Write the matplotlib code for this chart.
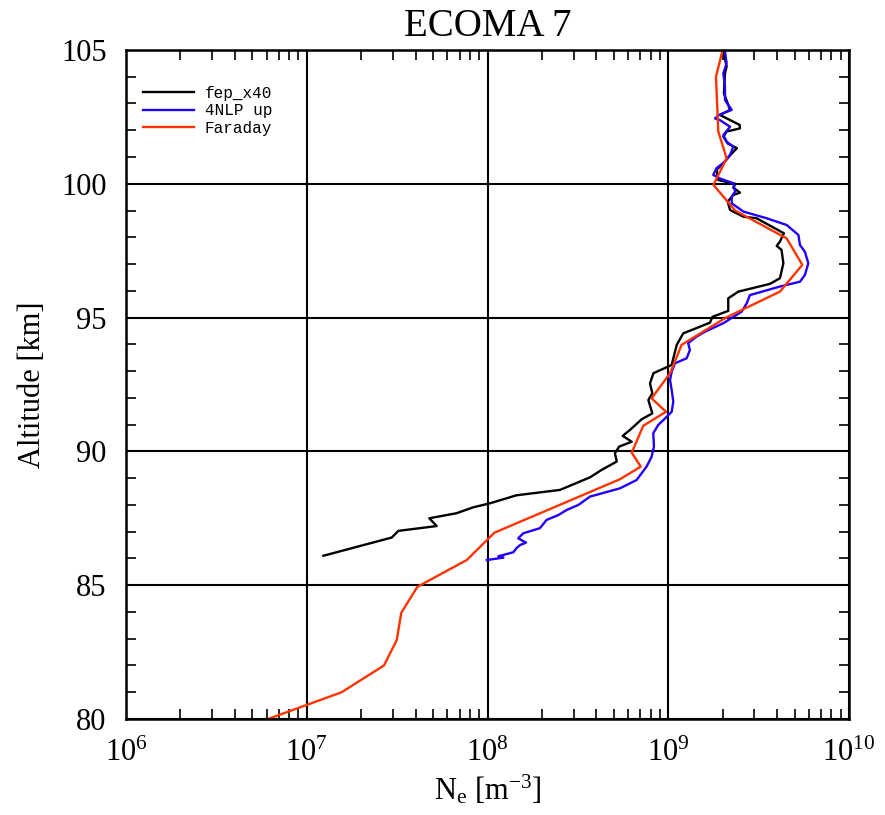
import numpy as np
import matplotlib
matplotlib.use('Agg')
import matplotlib.pyplot as plt

plt.rcParams['font.family'] = 'Liberation Serif'
plt.rcParams['mathtext.fontset'] = 'custom'
plt.rcParams['mathtext.rm'] = 'Liberation Serif'
plt.rcParams['mathtext.it'] = 'Liberation Serif:italic'

# fep_x40 : altitud (km) y log10(Ne)
fep_alt = [86.1, 86.78, 87.03, 87.21, 87.5, 87.69, 87.91, 88.06, 88.36, 88.56,
           89.03, 89.31, 89.62, 89.93, 90.18, 90.36, 90.58, 90.8, 91.2, 91.42,
           91.92, 92.17, 92.54, 92.92, 93.23, 93.98, 94.41, 94.81, 95.03, 95.25,
           95.72, 95.97, 96.26, 96.47, 97.03, 97.53, 97.68, 97.84, 98.15, 98.71,
           98.77, 99.02, 99.33, 99.58, 99.67, 99.85, 100.0, 100.14, 100.52, 100.77,
           101.01, 101.26, 101.33, 101.5, 101.76, 101.95, 102.07, 102.2, 102.57, 102.76,
           103.38, 104.13, 104.38, 104.94]
fep_log = [7.092, 7.47, 7.507, 7.719, 7.678, 7.829, 7.921, 8.014, 8.161, 8.401,
           8.567, 8.632, 8.715, 8.705, 8.729, 8.798, 8.748, 8.788, 8.853, 8.912,
           8.89, 8.912, 8.899, 8.918, 9.019, 9.047, 9.083, 9.231, 9.245, 9.332,
           9.332, 9.388, 9.563, 9.618, 9.637, 9.627, 9.60, 9.618, 9.64, 9.489,
           9.416, 9.342, 9.329, 9.36, 9.397, 9.36, 9.37, 9.277, 9.267, 9.305,
           9.335, 9.37, 9.38, 9.33, 9.305, 9.323, 9.397, 9.395, 9.286, 9.342,
           9.308, 9.314, 9.323, 9.305]

# 4NLP up
nlp_alt = [85.94, 86.03, 86.08, 86.23, 86.38, 86.5, 86.59, 86.75, 86.94, 87.13,
           87.44, 87.62, 87.81, 88.0, 88.31, 88.62, 88.93, 89.43, 89.8, 90.18,
           90.68, 90.99, 91.17, 91.48, 91.86, 92.29, 92.67, 92.98, 93.29, 93.48,
           93.79, 94.04, 94.29, 94.47, 94.79, 95.22, 95.53, 95.84, 96.16, 96.34,
           96.59, 97.03, 97.46, 97.71, 98.09, 98.46, 98.71, 98.96, 99.27, 99.52,
           99.71, 100.02, 100.2, 100.33, 100.58, 100.83, 101.08, 101.39, 101.57, 101.82,
           102.13, 102.38, 102.44, 102.57, 102.76, 103.13, 103.63, 104.13, 104.5, 104.94]
nlp_log = [7.996, 8.088, 8.06, 8.143, 8.16, 8.18, 8.213, 8.17, 8.198, 8.29,
           8.327, 8.392, 8.438, 8.503, 8.567, 8.733, 8.825, 8.88, 8.908, 8.921,
           8.917, 8.945, 8.973, 9.019, 9.028, 9.019, 9.01, 9.019, 9.037, 9.102,
           9.12, 9.11, 9.157, 9.203, 9.305, 9.406, 9.434, 9.452, 9.618, 9.729,
           9.756, 9.775, 9.756, 9.729, 9.72, 9.655, 9.545, 9.416, 9.351, 9.351,
           9.37, 9.36, 9.286, 9.249, 9.267, 9.314, 9.342, 9.36, 9.323, 9.305,
           9.342, 9.286, 9.259, 9.28, 9.351, 9.314, 9.314, 9.305, 9.323, 9.314]

# Faraday
far_alt = [80.0, 81.0, 82.0, 82.95, 83.97, 84.94, 85.94, 86.96, 88.96, 89.43,
           89.95, 90.96, 91.48, 91.98, 92.92, 93.98, 95.0, 95.97, 96.97, 97.96,
           99.0, 99.96, 100.95, 101.95, 104.0, 104.94]
far_log = [6.786, 7.193, 7.427, 7.498, 7.523, 7.612, 7.885, 8.038, 8.733, 8.848,
           8.798, 8.862, 8.988, 8.908, 9.01, 9.074, 9.32, 9.618, 9.742, 9.655,
           9.37, 9.25, 9.323, 9.277, 9.264, 9.299]

fig = plt.figure(figsize=(8.85, 8.15), dpi=100)
ax = fig.add_axes([0.1424, 0.1178, 0.8169, 0.8209])

ax.plot(np.power(10.0, fep_log), fep_alt, '-', color='black', linewidth=1.7, label='fep_x40')
ax.plot(np.power(10.0, nlp_log), nlp_alt, '-', color='#2200ff', linewidth=1.7, label='4NLP up')
ax.plot(np.power(10.0, far_log), far_alt, '-', color='#ff3300', linewidth=1.7, label='Faraday')

ax.set_xscale('log')
ax.set_xlim(1e6, 1e10)
ax.set_ylim(80, 105)
ax.set_yticks([80, 85, 90, 95, 100, 105])
ax.set_yticks(np.arange(80, 106, 1), minor=True)

ax.grid(True, which='major', color='black', linewidth=1.5)
ax.tick_params(which='both', direction='in', top=True, right=True, labelsize=22)
ax.tick_params(which='major', length=0, pad=14)
ax.tick_params(which='minor', length=7, width=1.2)
for s in ax.spines.values():
    s.set_linewidth(1.8)

ax.set_title('ECOMA 7', fontsize=28, pad=10)
ax.set_xlabel(r'N$_\mathrm{e}$ [m$^{-3}$]', fontsize=22, labelpad=4)
ax.set_ylabel('Altitude [km]', fontsize=22, labelpad=10)

leg = ax.legend(loc='upper left', frameon=False, prop={'family': 'Liberation Mono', 'size': 11.5},
                handlelength=3.2, handletextpad=0.7, labelspacing=0.15,
                bbox_to_anchor=(0.003, 0.968))

fig.savefig('out.png', dpi=100)
